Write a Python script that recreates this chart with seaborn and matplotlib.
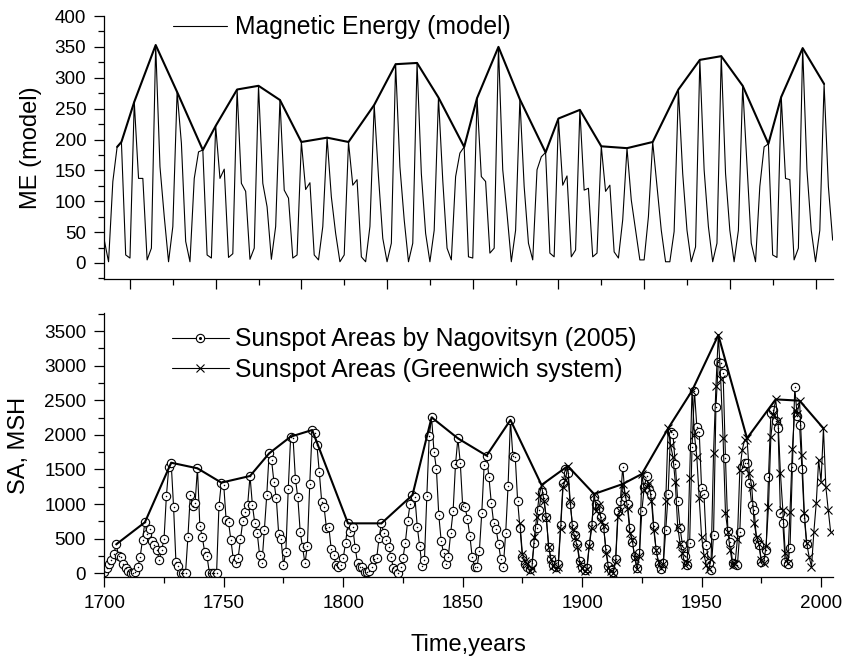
import numpy as np
import matplotlib
matplotlib.use("Agg")
import matplotlib.pyplot as plt
import seaborn as sns
from matplotlib.lines import Line2D
from matplotlib.ticker import MultipleLocator

sns.set_style("ticks")
plt.rcParams['font.family'] = ['Liberation Sans', 'DejaVu Sans']
plt.rcParams['text.color'] = 'black'
plt.rcParams['axes.labelcolor'] = 'black'
plt.rcParams['xtick.color'] = 'black'
plt.rcParams['ytick.color'] = 'black'
plt.rcParams['axes.edgecolor'] = 'black'

# ---------------- data ----------------
# Model magnetic energy, sampled every 2.5 model years starting at 1685
me_start = 1685
me_step = 2.5
me_values = [
    37, 2, 132, 188, 196, 13, 8, 261, 137, 137,
    5, 24, 353, 156, 75, 2, 59, 277, 194, 35,
    2, 137, 180, 183, 13, 8, 222, 137, 152, 9,
    15, 281, 129, 116, 6, 24, 287, 129, 91, 6,
    59, 264, 118, 105, 8, 13, 196, 119, 130, 13,
    5, 59, 203, 107, 48, 2, 13, 196, 126, 135,
    10, 2, 59, 256, 140, 40, 2, 32, 322, 156,
    70, 2, 32, 324, 145, 48, 2, 53, 268, 134,
    24, 5, 140, 178, 188, 10, 8, 267, 140, 132,
    16, 24, 350, 151, 80, 2, 53, 265, 124, 32,
    5, 151, 172, 179, 16, 10, 234, 126, 141, 10,
    21, 248, 118, 121, 10, 16, 189, 116, 126, 18,
    8, 70, 186, 102, 53, 5, 5, 75, 196, 124,
    53, 2, 2, 51, 281, 145, 53, 2, 26, 329,
    151, 59, 2, 32, 335, 145, 53, 2, 53, 287,
    161, 32, 2, 124, 188, 193, 13, 9, 269, 137,
    135, 5, 24, 348, 151, 53, 2, 53, 290, 124,
    37,
]
# samples forming the upper envelope (cycle maxima)
me_env_idx = [3, 4, 7, 12, 17, 23, 26, 31, 36, 41, 46, 52, 57, 63, 68, 73, 78,
              84, 87, 92, 97, 103, 106, 111, 116, 122, 128, 134, 139, 144, 149,
              155, 158, 163, 168]

# Sunspot areas by Nagovitsyn (2005), annual 1700-1994
na_first_year = 1700
na_values = [
    15, 72, 130, 193, 279, 419, 250, 231, 135, 72,
    30, 0, 5, 14, 87, 231, 481, 737, 568, 636,
    472, 404, 337, 193, 337, 491, 1117, 1531, 1598, 963,
    159, 111, 0, 0, 0, 520, 1127, 973, 1011, 1517,
    684, 530, 313, 250, 0, 0, 0, 0, 973, 1310,
    1276, 770, 741, 481, 202, 154, 217, 491, 761, 886,
    987, 1406, 987, 722, 587, 265, 154, 626, 1127, 1733,
    1637, 1324, 1083, 568, 491, 120, 313, 1218, 1974, 1960,
    1363, 1098, 602, 376, 144, 395, 1290, 2070, 2022, 1854,
    1459, 1035, 953, 650, 664, 347, 265, 120, 96, 120,
    217, 443, 722, 602, 664, 371, 150, 96, 96, 14,
    14, 40, 96, 202, 217, 506, 722, 578, 481, 385,
    241, 72, 48, 0, 96, 217, 443, 761, 1001, 1131,
    1107, 674, 395, 106, 193, 1117, 1984, 2253, 1757, 1512,
    843, 472, 289, 135, 241, 587, 900, 1574, 1950, 1598,
    977, 963, 780, 544, 231, 96, 87, 327, 876, 1565,
    1700, 1387, 1011, 722, 640, 420, 202, 96, 578, 1261,
    2215, 1700, 1685, 1050, 650, 241, 135, 96, 58, 150,
    443, 650, 915, 1180, 1083, 809, 385, 202, 120, 96,
    140, 700, 1300, 1500, 1450, 1000, 700, 560, 420, 180,
    90, 50, 80, 420, 700, 1100, 1000, 950, 820, 650,
    350, 100, 50, 20, 200, 900, 1050, 1540, 1100, 1000,
    650, 450, 250, 80, 300, 900, 1250, 1400, 1200, 1150,
    680, 330, 140, 60, 150, 626, 1141, 2046, 2012, 1579,
    1045, 650, 409, 250, 120, 433, 1820, 2638, 2118, 2046,
    1228, 1146, 409, 144, 48, 554, 2398, 3057, 3033, 2889,
    1661, 616, 457, 144, 130, 120, 602, 1541, 1589, 1598,
    1300, 987, 915, 481, 409, 168, 193, 337, 1396, 2311,
    2359, 2200, 2094, 867, 722, 168, 130, 361, 1541, 2687,
    2272, 2142, 1502, 795, 419,
]

# Sunspot areas, Greenwich system, annual 1874-2004
gr_first_year = 1874
gr_values = [
    720, 280, 180, 140, 40, 80,
    520, 820, 1120, 1276, 1050, 800, 380, 200, 100, 60,
    90, 640, 1240, 1350, 1550, 1050, 640, 520, 380, 150,
    70, 30, 60, 400, 650, 1146, 900, 980, 760, 680,
    300, 80, 30, 10, 160, 820, 900, 1290, 1150, 950,
    580, 480, 220, 60, 250, 1435, 1200, 1250, 1300, 1050,
    620, 330, 160, 80, 140, 1050, 2094, 1853, 1685, 1314,
    674, 430, 300, 120, 150, 1382, 2638, 2000, 1685, 1083,
    530, 265, 120, 60, 200, 1733, 2700, 3442, 2800, 1950,
    870, 600, 330, 120, 140, 500, 1490, 1780, 1926, 1950,
    1444, 1250, 720, 530, 430, 190, 150, 400, 963, 1974,
    2300, 2513, 2200, 1444, 915, 300, 144, 891, 1800, 2359,
    2300, 2494, 1709, 867, 433, 241, 96, 602, 1021, 1637,
    1324, 2094, 1252, 915, 602,
]

# envelope through cycle maxima of the sunspot areas
env_years = [1705, 1717, 1728, 1739, 1749, 1761, 1769, 1778, 1787, 1802, 1816,
             1829, 1837, 1848, 1860, 1870, 1883, 1894, 1905, 1917, 1925, 1936,
             1946, 1957, 1969, 1981, 1991, 2001]
env_values = [419, 737, 1598, 1517, 1310, 1406, 1733, 1974, 2070, 722, 722,
              1131, 2253, 1950, 1700, 2215, 1276, 1550, 1146, 1290, 1435, 2094,
              2638, 3442, 1950, 2513, 2494, 2094]

me_label = "Magnetic Energy (model)"
na_label = "Sunspot Areas by Nagovitsyn (2005)"
gr_label = "Sunspot Areas (Greenwich system)"

# ---------------- derived x positions ----------------
me_time = me_start + me_step * np.arange(len(me_values))
me_arr = np.array(me_values, dtype=float)
na_years = na_first_year + np.arange(len(na_values))
gr_years = gr_first_year + np.arange(len(gr_values))

# ---------------- figure ----------------
fig = plt.figure(figsize=(8.45, 6.57), dpi=100)
ax1 = fig.add_axes([0.1234, 0.5749, 0.8624, 0.4007])
ax2 = fig.add_axes([0.1234, 0.1222, 0.8624, 0.4009])

thin = 0.8
thick = 1.5

# top panel
sns.lineplot(x=me_time, y=me_arr, ax=ax1, color='black', lw=thin,
             estimator=None, sort=False, legend=False)
sns.lineplot(x=me_time[me_env_idx], y=me_arr[me_env_idx], ax=ax1,
             color='black', lw=thick, estimator=None, sort=False, legend=False)

# bottom panel
sns.lineplot(x=na_years, y=na_values, ax=ax2, color='black', lw=thin,
             marker='o', ms=6, mfc='white', mec='black', mew=0.8,
             estimator=None, sort=False, legend=False, zorder=2)
sns.scatterplot(x=na_years, y=na_values, ax=ax2, marker='o', s=1.2,
                color='black', linewidth=0, legend=False, zorder=3)
sns.lineplot(x=gr_years, y=gr_values, ax=ax2, color='black', lw=thin,
             marker='x', ms=6, mec='black', mew=0.8,
             estimator=None, sort=False, legend=False, zorder=4)
sns.lineplot(x=env_years, y=env_values, ax=ax2, color='black', lw=thick,
             estimator=None, sort=False, legend=False, zorder=5)

# axes styling
for ax in (ax1, ax2):
    for s in ('top', 'right'):
        ax.spines[s].set_visible(False)
    for s in ('left', 'bottom'):
        ax.spines[s].set_linewidth(0.9)
        ax.spines[s].set_color('black')
    ax.tick_params(axis='both', which='major', direction='out', length=7,
                   width=0.9, labelsize=13.6, pad=6, colors='black')
    ax.tick_params(axis='both', which='minor', direction='out', length=4,
                   width=0.9, colors='black')
    ax.set_facecolor('white')

ax1.set_xlim(1685, 2110.2)
ax1.set_ylim(-26.4, 400)
ax1.xaxis.set_major_locator(MultipleLocator(50))
ax1.xaxis.set_minor_locator(MultipleLocator(25))
ax1.yaxis.set_major_locator(MultipleLocator(50))
ax1.yaxis.set_minor_locator(MultipleLocator(25))
ax1.tick_params(axis='x', labelbottom=False)
ax1.set_xlabel('')
ax1.set_ylabel('ME (model)', fontsize=17, color='black')
ax1.yaxis.set_label_coords(-0.085, 0.5)

ax2.set_xlim(1700, 2005)
ax2.set_ylim(-49, 3756)
ax2.xaxis.set_major_locator(MultipleLocator(50))
ax2.xaxis.set_minor_locator(MultipleLocator(25))
ax2.yaxis.set_major_locator(MultipleLocator(500))
ax2.yaxis.set_minor_locator(MultipleLocator(250))
ax2.set_xlabel('Time,years', fontsize=17, color='black')
ax2.xaxis.set_label_coords(0.5, -0.2175)
ax2.set_ylabel('SA, MSH', fontsize=17, color='black')
ax2.yaxis.set_label_coords(-0.102, 0.5)

# legends
leg_fs = 17.8
h_me = Line2D([0], [0], color='black', lw=thin)
ax1.legend([h_me], [me_label], loc='upper left', bbox_to_anchor=(0.2047, 0.9765),
           bbox_transform=fig.transFigure, frameon=False, fontsize=leg_fs,
           handlelength=2.2, handletextpad=0.3, borderpad=0, borderaxespad=0,
           labelcolor='black')

h_na = (Line2D([0], [0], color='black', lw=thin, marker='o', ms=6, mfc='white',
               mec='black', mew=0.8),
        Line2D([0], [0], ls='', marker='o', ms=1.2, color='black'))
h_gr = Line2D([0], [0], color='black', lw=thin, marker='x', ms=6, mec='black', mew=0.8)
ax2.legend([h_na, h_gr], [na_label, gr_label], loc='upper left',
           bbox_to_anchor=(0.2036, 0.502), bbox_transform=fig.transFigure,
           frameon=False, fontsize=leg_fs, handlelength=2.3, handletextpad=0.25,
           labelspacing=0.26, borderpad=0, borderaxespad=0, numpoints=1,
           labelcolor='black')

fig.savefig('out.png', dpi=100, facecolor='white')
